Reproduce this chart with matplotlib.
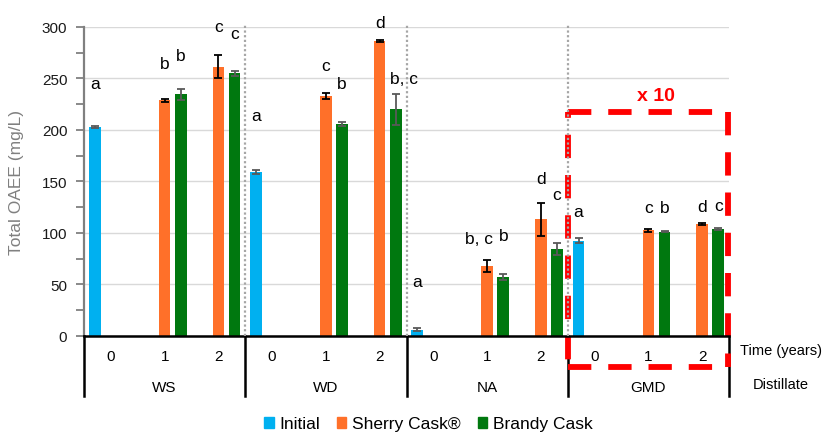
import matplotlib
matplotlib.use("Agg")
import matplotlib.pyplot as plt
from matplotlib.patches import Patch
import numpy as np

plt.rcParams['font.family'] = ['Liberation Sans', 'DejaVu Sans']

# ---- data -------------------------------------------------------------
distillates = ["WS", "WD", "NA", "GMD"]
years = ["0", "1", "2"]
series_names = ["Initial", "Sherry Cask\u00ae", "Brandy Cask"]

# Initial (time 0) for each distillate
initial = [203, 159.5, 6, 92.5]
initial_err = [1, 2, 1, 2]

# Cask-aged values at years 1 and 2 for each distillate
sherry = [[229, 261.5], [233, 286.5], [68, 113], [102.5, 108.5]]
sherry_err = [[1.5, 11], [2.5, 1], [6, 16], [1.5, 0.8]]
brandy = [[234.5, 255], [205.5, 220], [57, 84], [101, 103.5]]
brandy_err = [[5, 2.5], [2, 15], [2.5, 6], [0.7, 0.7]]

# significance letters
initial_letters = ["a", "a", "a", "a"]
sherry_letters = [["b", "c"], ["c", "d"], ["b, c", "d"], ["c", "d"]]
brandy_letters = [["b", "c"], ["b", "b, c"], ["b", "c"], ["b", "c"]]

# ---- style ------------------------------------------------------------
c_init = "#00b0f0"
c_sherry = "#ff7029"
c_brandy = "#00780f"
err_dark = "#000000"
err_grey = "#595959"

# letter heights (text centres, in axis units) and horizontal nudges
initial_letter_y = [245, 214, 53, 121]
sherry_letter_y = [[264.5, 300.5], [262.5, 304.5], [94, 152.5], [125, 126]]
brandy_letter_y = [[272, 294], [245, 250], [97, 137], [125, 127]]
sherry_letter_dx = [[0, 0], [0, 0], [-0.15, 0], [0, 0]]
brandy_letter_dx = [[0, 0], [0, 0.15], [0, 0], [0, 0]]

W, H = 824, 435
fig = plt.figure(figsize=(W / 100, H / 100), dpi=100)
ax_left, ax_right = 84 / W, 729 / W
ax_bottom, ax_top = 1 - 336.7 / H, 1 - 28 / H
ax = fig.add_axes([ax_left, ax_bottom, ax_right - ax_left, ax_top - ax_bottom])

n_cat = len(distillates) * len(years)
bw = 0.215
off = 0.30
ekw = dict(elinewidth=1.3, capthick=1.3)

for g, name in enumerate(distillates):
    base = g * 3
    # initial bar at year 0, left slot
    xi = base - off
    ax.bar(xi, initial[g], width=bw, color=c_init, zorder=3)
    ax.errorbar(xi, initial[g], yerr=initial_err[g], fmt='none',
                ecolor=err_grey, capsize=3, zorder=4, **ekw)
    ax.text(xi, initial_letter_y[g], initial_letters[g], ha='center',
            va='center', fontsize=12.5, zorder=5)
    for k in range(2):
        xs = base + 1 + k
        xb = xs + off
        ax.bar(xs, sherry[g][k], width=bw, color=c_sherry, zorder=3)
        ax.errorbar(xs, sherry[g][k], yerr=sherry_err[g][k], fmt='none',
                    ecolor=err_dark, capsize=3, zorder=4, **ekw)
        ax.bar(xb, brandy[g][k], width=bw, color=c_brandy, zorder=3)
        ax.errorbar(xb, brandy[g][k], yerr=brandy_err[g][k], fmt='none',
                    ecolor=err_grey, capsize=3, zorder=4, **ekw)
        ax.text(xs + sherry_letter_dx[g][k], sherry_letter_y[g][k],
                sherry_letters[g][k], ha='center', va='center',
                fontsize=12.5, zorder=5)
        ax.text(xb + brandy_letter_dx[g][k], brandy_letter_y[g][k],
                brandy_letters[g][k], ha='center', va='center',
                fontsize=12.5, zorder=5)

ax.set_xlim(-0.5, n_cat - 0.5)
ax.set_ylim(0, 300)

# y axis
ax.set_yticks(np.arange(0, 301, 50))
ax.set_yticks(np.arange(25, 300, 50), minor=True)
ax.tick_params(axis='y', which='both', direction='out', length=6, width=1.3,
               color='#808080', labelsize=11, pad=6, labelcolor='#1a1a1a')
ax.grid(axis='y', color='#d9d9d9', linewidth=1, zorder=0)
ax.set_axisbelow(True)
ax.set_ylabel("Total OAEE (mg/L)", fontsize=12.5, color='#808080')
ax.yaxis.set_label_coords(-0.093, 0.5)

for s in ['top', 'right']:
    ax.spines[s].set_visible(False)
ax.spines['left'].set_color('#808080')
ax.spines['left'].set_linewidth(1.6)
ax.spines['bottom'].set_color('black')
ax.spines['bottom'].set_linewidth(1.8)
ax.spines['bottom'].set_zorder(6)

# category table under the x axis
ax.set_xticks([])
xt = ax.get_xaxis_transform()

def ay(pix):
    return (336.7 - pix) / (336.7 - 28)

for i in range(n_cat):
    ax.text(i, ay(357), years[i % 3], transform=xt, ha='center', va='center',
            fontsize=11)
for g, name in enumerate(distillates):
    ax.text(g * 3 + 1, ay(388), name, transform=xt, ha='center', va='center',
            fontsize=11)
for b in range(len(distillates) + 1):
    ax.plot([b * 3 - 0.5] * 2, [0, ay(397)], transform=xt, color='black',
            lw=1.8, clip_on=False, zorder=6)
ax.text(12.47, ay(351), "Time (years)", transform=xt, ha='center',
        va='center', fontsize=10.5)
ax.text(12.47, ay(385), "Distillate", transform=xt, ha='center',
        va='center', fontsize=10.5)

# dotted separators between distillates
for b in range(1, len(distillates)):
    ax.plot([b * 3 - 0.5] * 2, [0, 303], color='#a6a6a6', lw=1.6,
            linestyle=(0, (1, 1.1)), clip_on=False, zorder=7)

# red dashed frame around the GMD block (values scaled x10)
box_x0, box_x1 = 8.5, 11.48
box_y0, box_y1 = -30.5, 217.8
dash = dict(color='#ff0000', lw=4.2, linestyle=(0, (4.0, 2.9)),
            clip_on=False, zorder=6, solid_capstyle='butt',
            dash_capstyle='butt')
ax.plot([box_x0, box_x1], [box_y1, box_y1], **dash)
ax.plot([box_x0, box_x1], [box_y0, box_y0], **dash)
ax.plot([box_x0, box_x0], [box_y1, box_y0], **dict(dash, linestyle=(3.0, (4.0, 2.9))))
ax.plot([box_x1, box_x1], [box_y1, box_y0], **dash)
ax.text(10.14, 233, "x 10", color='#ff0000', fontsize=14, fontweight='bold',
        ha='center', va='center')

# legend
handles = [Patch(color=c) for c in (c_init, c_sherry, c_brandy)]
fig.legend(handles, series_names, loc='center', ncol=3,
           bbox_to_anchor=(0.52, 1 - 425 / H), frameon=False, fontsize=12.5,
           handlelength=0.55, handleheight=0.55, handletextpad=0.35,
           columnspacing=0.95, borderaxespad=0, borderpad=0)

fig.savefig("out.png", dpi=100)
